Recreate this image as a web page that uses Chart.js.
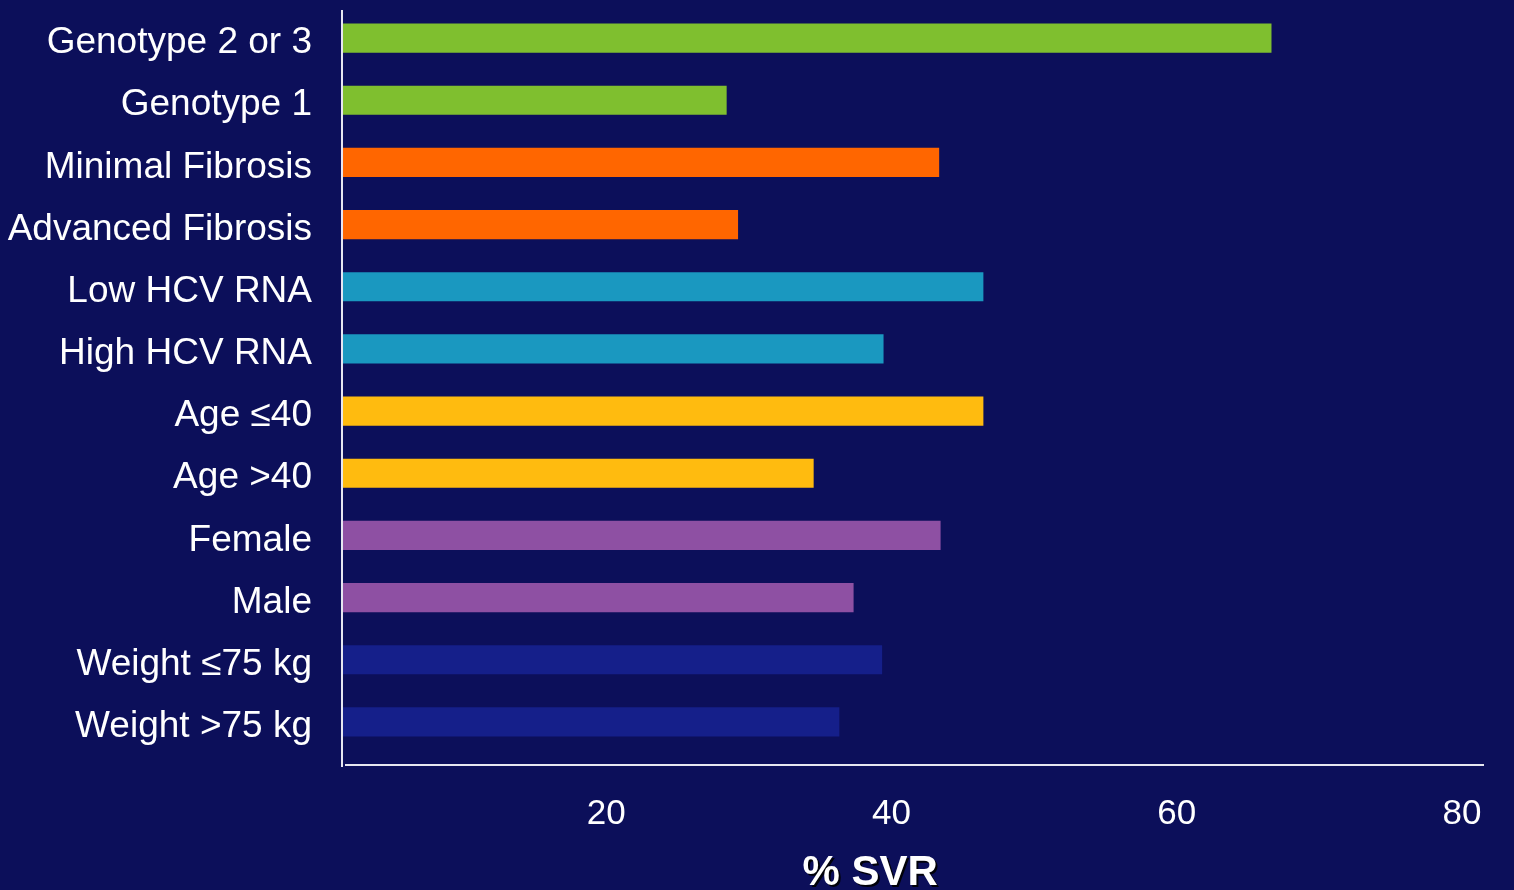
<!DOCTYPE html>
<html>
<head>
<meta charset="utf-8">
<script src="https://cdn.jsdelivr.net/npm/chart.js@4.4.1/dist/chart.umd.min.js"></script>
<style>
    html, body { margin: 0; padding: 0; background: #0c0f5a; }
    #wrap { width: 1514px; height: 890px; }
</style>
</head>
<body>
<div id="wrap"><canvas id="svrChart" width="1514" height="890"></canvas></div>
<script>
const categories = [
    'Genotype 2 or 3', 'Genotype 1',
    'Minimal Fibrosis', 'Advanced Fibrosis',
    'Low HCV RNA', 'High HCV RNA',
    'Age \u226440', 'Age >40',
    'Female', 'Male',
    'Weight \u226475 kg', 'Weight >75 kg'
];
const svrValues = [65.1, 26.9, 41.8, 27.7, 44.9, 37.9, 44.9, 33.0, 41.9, 35.8, 37.8, 34.8];
const xTicks = [20, 40, 60, 80];
const axisTitle = '% SVR';

const barColors = [
    '#7fbf2f', '#7fbf2f',
    '#ff6600', '#ff6600',
    '#1a98c0', '#1a98c0',
    '#ffbb0f', '#ffbb0f',
    '#8e50a3', '#8e50a3',
    '#151f8a', '#151f8a'
];

// axis lines sit a bit below the last bar, and the x labels get a dark shadow
const axisPlugin = {
    id: 'axisLines',
    afterDatasetsDraw(chart) {
        const ctx = chart.ctx;
        const a = chart.chartArea;
        ctx.save();
        ctx.strokeStyle = '#e6e6f0';
        ctx.lineWidth = 2;
        ctx.beginPath();
        ctx.moveTo(a.left - 1, a.top + 3);
        ctx.lineTo(a.left - 1, a.bottom + 14);
        ctx.moveTo(a.left + 2, a.bottom + 12);
        ctx.lineTo(a.right, a.bottom + 12);
        ctx.stroke();
        ctx.restore();
        ctx.save();
        ctx.shadowColor = 'rgba(0,0,0,0.9)';
        ctx.shadowOffsetX = 2;
        ctx.shadowOffsetY = 2;
        ctx.shadowBlur = 0;
    },
    afterDraw(chart) {
        const ctx = chart.ctx;
        ctx.restore();
        const a = chart.chartArea;
        ctx.save();
        ctx.shadowColor = 'rgba(0,0,0,0.9)';
        ctx.shadowOffsetX = 2;
        ctx.shadowOffsetY = 2;
        ctx.fillStyle = '#ffffff';
        ctx.font = 'bold 42px "Liberation Sans", Arial, sans-serif';
        ctx.textAlign = 'center';
        ctx.textBaseline = 'alphabetic';
        ctx.fillText(axisTitle, a.left + (a.right - a.left) * 0.462, 885);
        ctx.restore();
    }
};

document.addEventListener('DOMContentLoaded', function () {
    const ctx = document.getElementById('svrChart').getContext('2d');
    new Chart(ctx, {
        type: 'bar',
        data: {
            labels: categories,
            datasets: [{
                data: svrValues,
                backgroundColor: barColors,
                borderWidth: 0,
                barPercentage: 0.47,
                categoryPercentage: 1
            }]
        },
        options: {
            indexAxis: 'y',
            responsive: false,
            animation: false,
            layout: {
                padding: { top: 7, right: 30, bottom: 0, left: 0 }
            },
            plugins: {
                legend: { display: false },
                tooltip: { enabled: false }
            },
            scales: {
                x: {
                    z: 1,
                    min: 0,
                    max: 80,
                    afterBuildTicks: function (scale) {
                        scale.ticks = xTicks.map(v => ({ value: v }));
                    },
                    afterFit: function (scale) {
                        scale.height = 137;
                        scale.paddingLeft = 0;
                        scale.paddingRight = 0;
                    },
                    grid: { display: false, drawTicks: false },
                    border: { display: false },
                    ticks: {
                        color: '#ffffff',
                        padding: 40,
                        labelOffset: -22,
                        maxRotation: 0,
                        font: { family: '"Liberation Sans", Arial, sans-serif', size: 35 }
                    }
                },
                y: {
                    afterFit: function (scale) {
                        scale.width = 343;
                        scale.paddingTop = 0;
                        scale.paddingBottom = 0;
                    },
                    grid: { display: false, drawTicks: false },
                    border: { display: false },
                    ticks: {
                        color: '#ffffff',
                        padding: 31,
                        labelOffset: 5,
                        font: { family: '"Liberation Sans", Arial, sans-serif', size: 37 }
                    }
                }
            }
        },
        plugins: [axisPlugin]
    });
});
</script>
</body>
</html>
